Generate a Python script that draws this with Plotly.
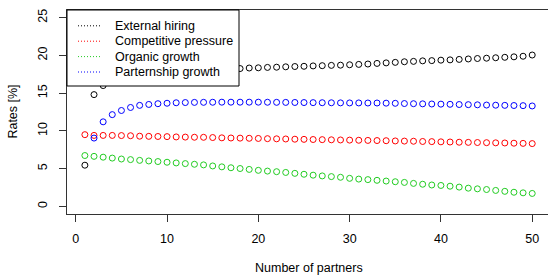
import plotly.graph_objects as go

partners = list(range(1, 51))

external_hiring = [5.46, 14.8, 16.0, 16.6, 17.0, 17.3, 17.5, 17.6, 17.7, 17.8,
                   17.85, 17.9, 17.95, 18.0, 18.05, 18.1, 18.15, 18.25, 18.32, 18.35,
                   18.4, 18.43, 18.48, 18.52, 18.55, 18.6, 18.63, 18.67, 18.7, 18.75,
                   18.8, 18.85, 18.93, 19.0, 19.07, 19.15, 19.2, 19.27, 19.3, 19.36,
                   19.4, 19.46, 19.52, 19.58, 19.62, 19.68, 19.74, 19.8, 19.88, 20.04]

competitive_pressure = [9.5, 9.4, 9.4, 9.4, 9.38, 9.36, 9.3, 9.28, 9.26, 9.24,
                        9.2, 9.18, 9.16, 9.15, 9.12, 9.08, 9.06, 9.04, 9.02, 9.0,
                        8.97, 8.95, 8.93, 8.9, 8.88, 8.86, 8.84, 8.82, 8.8, 8.78,
                        8.76, 8.74, 8.72, 8.7, 8.67, 8.65, 8.63, 8.6, 8.58, 8.55,
                        8.53, 8.5, 8.48, 8.46, 8.44, 8.42, 8.4, 8.37, 8.35, 8.32]

organic_growth = [6.74, 6.63, 6.52, 6.4, 6.28, 6.2, 6.1, 6.02, 5.94, 5.85,
                  5.76, 5.67, 5.58, 5.5, 5.36, 5.24, 5.12, 5.02, 4.9, 4.78,
                  4.68, 4.6, 4.5, 4.38, 4.26, 4.14, 4.04, 3.95, 3.86, 3.72,
                  3.62, 3.55, 3.46, 3.36, 3.27, 3.18, 3.05, 2.94, 2.84, 2.78,
                  2.68, 2.56, 2.42, 2.33, 2.24, 2.12, 2.0, 1.88, 1.8, 1.72]

partnership_growth = [None, 9.05, 11.2, 12.15, 12.7, 13.1, 13.38, 13.5, 13.6, 13.66,
                      13.72, 13.75, 13.77, 13.78, 13.79, 13.8, 13.8, 13.8, 13.8, 13.8,
                      13.79, 13.78, 13.77, 13.76, 13.75, 13.74, 13.73, 13.72, 13.71, 13.7,
                      13.7, 13.69, 13.69, 13.67, 13.65, 13.62, 13.6, 13.58, 13.56, 13.54,
                      13.52, 13.49, 13.47, 13.45, 13.42, 13.4, 13.38, 13.36, 13.34, 13.3]

series_names = ["External hiring", "Competitive pressure", "Organic growth", "Parternship growth"]
series_values = [external_hiring, competitive_pressure, organic_growth, partnership_growth]
series_colors = ["#000000", "#FF0000", "#22CC22", "#0000FF"]

x_ticks = [0, 10, 20, 30, 40, 50]
y_ticks = [0, 5, 10, 15, 20, 25]

W, H = 548, 278
ML, MR, MT, MB = 67, 0, 10, 64
PW, PH = W - ML - MR, H - MT - MB

def px_x(p):
    return (p - ML) / PW

def px_y(p):
    return 1 - (p - MT) / PH

FONT = "Liberation Sans, Arial, sans-serif"

fig = go.Figure()
for name, vals, col in zip(series_names, series_values, series_colors):
    fig.add_trace(go.Scatter(
        x=partners, y=vals, mode="markers", name=name, showlegend=False,
        marker=dict(symbol="circle-open", size=6, color=col, line=dict(width=1, color=col)),
    ))

shapes = []
annotations = []
# manual legend (R style)
shapes.append(dict(type="rect", xref="paper", yref="paper",
                   x0=px_x(67), x1=px_x(239), y0=px_y(86), y1=px_y(10),
                   fillcolor="white", line=dict(color="black", width=1), layer="above"))
row_y = [25.8, 41.2, 56.6, 72.0]
for name, col, ry in zip(series_names, series_colors, row_y):
    shapes.append(dict(type="line", xref="paper", yref="paper",
                       x0=px_x(78), x1=px_x(100), y0=px_y(ry), y1=px_y(ry),
                       line=dict(color=col, width=1, dash="1px,2px"), layer="above"))
    annotations.append(dict(text=name, xref="paper", yref="paper",
                            x=px_x(113), y=px_y(ry), xanchor="left", yanchor="middle",
                            showarrow=False, font=dict(size=12.5, color="black", family=FONT)))

annotations.append(dict(text="Number of partners", xref="paper", yref="paper",
                        x=px_x(308.5), y=px_y(268), xanchor="center", yanchor="middle",
                        showarrow=False, font=dict(size=12.5, color="black", family=FONT)))
annotations.append(dict(text="Rates [%]", xref="paper", yref="paper",
                        x=px_x(13), y=px_y(111.6), xanchor="center", yanchor="middle",
                        textangle=-90, showarrow=False,
                        font=dict(size=12.5, color="black", family=FONT)))

fig.update_layout(
    width=W, height=H,
    margin=dict(l=ML, r=MR, t=MT, b=MB, pad=0),
    paper_bgcolor="white", plot_bgcolor="white",
    font=dict(family=FONT, size=12, color="black"),
    shapes=shapes, annotations=annotations,
    xaxis=dict(range=[-0.96, 51.73], tickvals=x_ticks, ticks="outside", ticklen=7,
               tickcolor="#333", showline=True, linecolor="#333", linewidth=1, mirror=True,
               showgrid=False, zeroline=False, ticklabelstandoff=6,
               tickfont=dict(size=12.5, color="black")),
    yaxis=dict(range=[-1, 26], tickvals=y_ticks, ticks="outside", ticklen=7,
               tickcolor="#333", showline=True, linecolor="#333", linewidth=1,
               showgrid=False, zeroline=False, tickangle=-90, ticklabelstandoff=7,
               tickfont=dict(size=12.5, color="black")),
)

fig.write_html("out.html", config={"displayModeBar": False},
               post_script="document.body.style.margin='0';document.body.style.overflow='hidden';")
